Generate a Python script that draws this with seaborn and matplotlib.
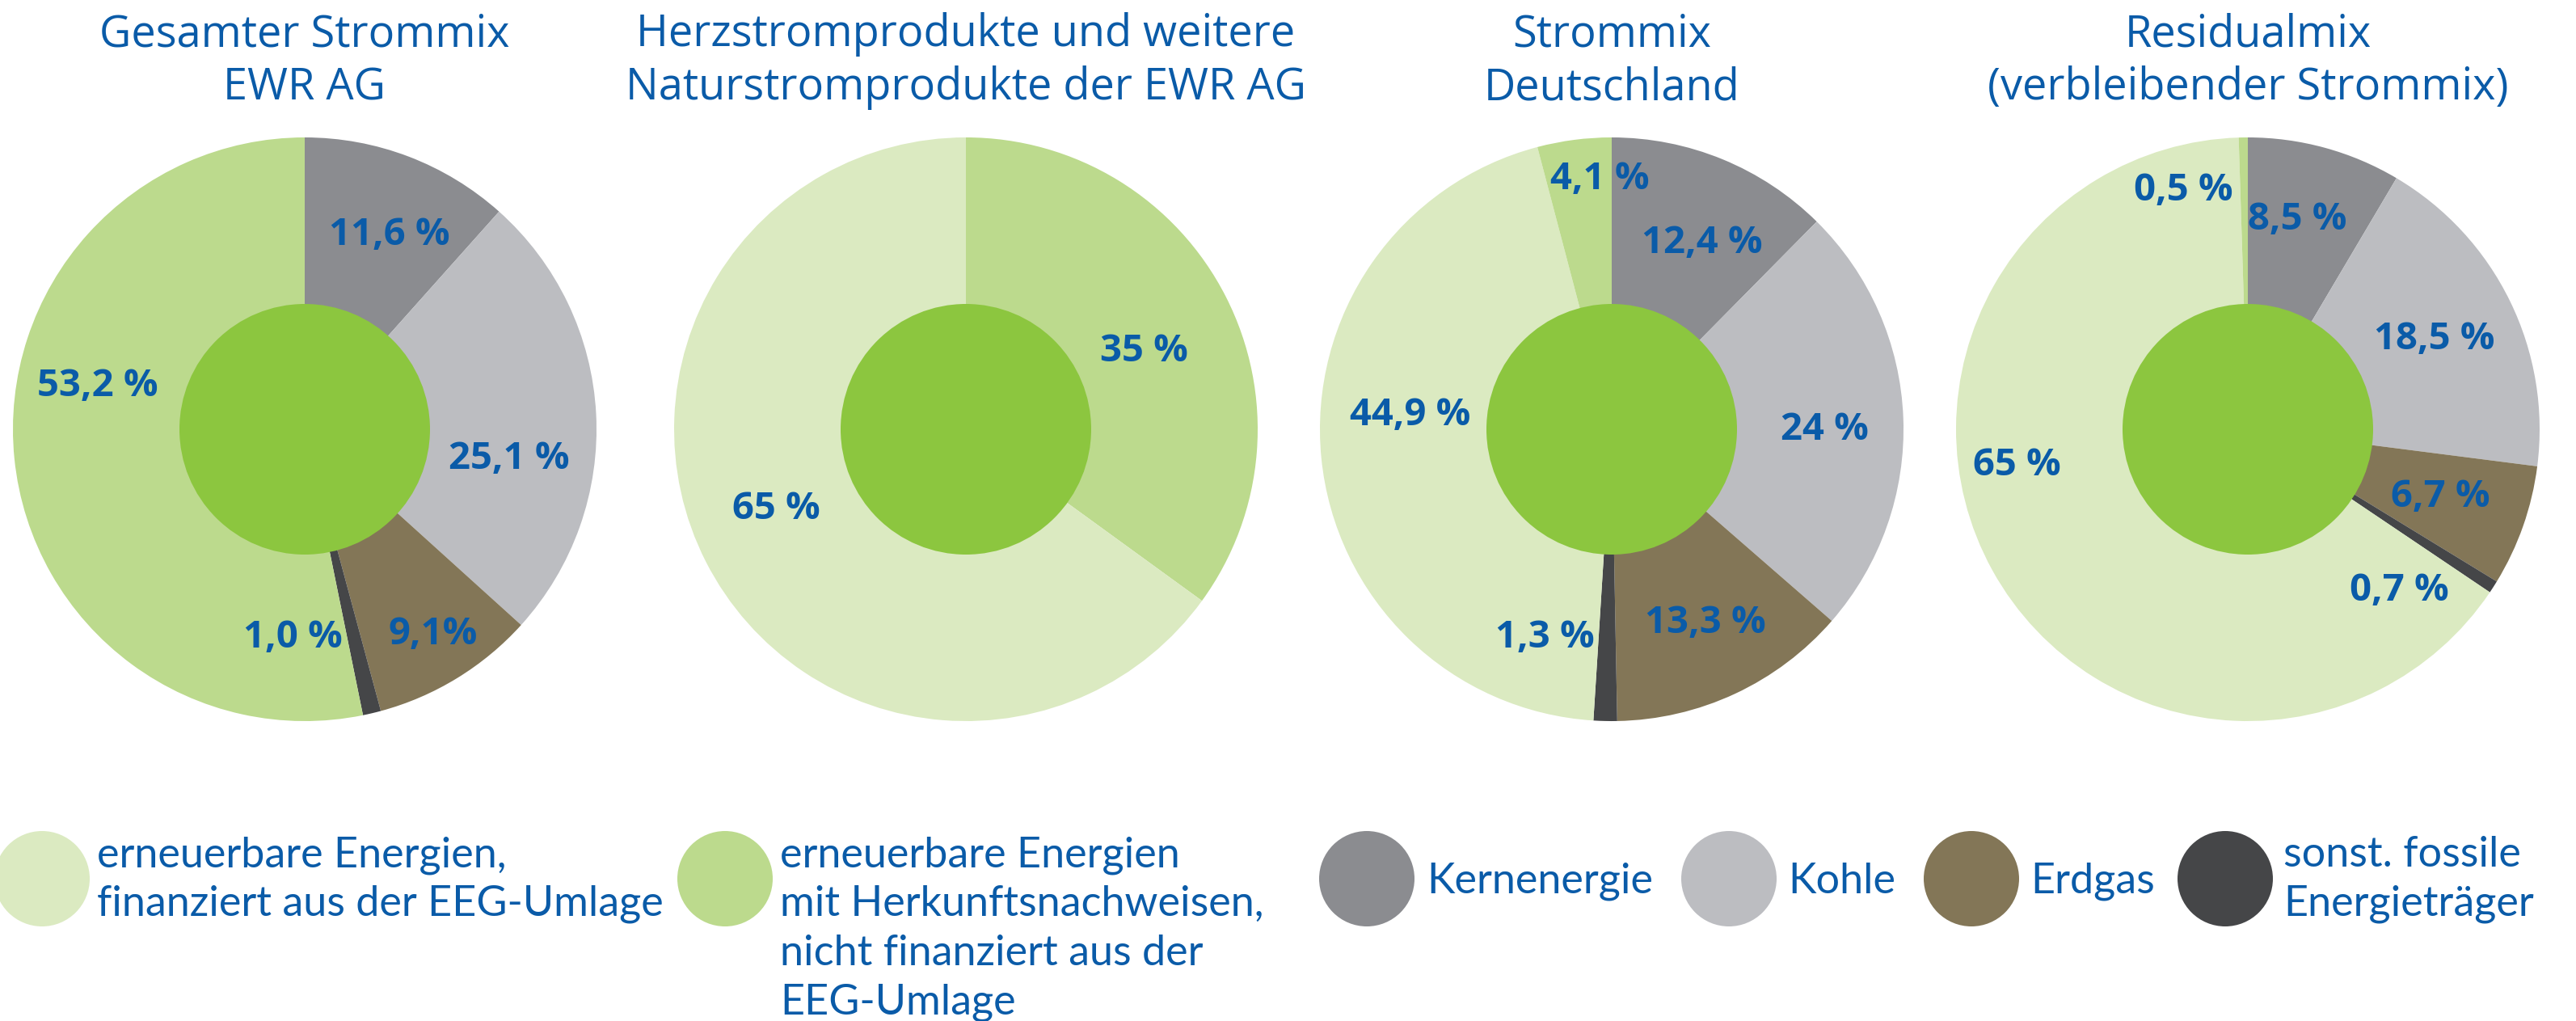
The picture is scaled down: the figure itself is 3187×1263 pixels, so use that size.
import matplotlib
matplotlib.use("Agg")
import matplotlib.pyplot as plt
import seaborn as sns
from matplotlib.patches import Circle

# ---- data -------------------------------------------------------------
categories = [
    "erneuerbare Energien, finanziert aus der EEG-Umlage",
    "erneuerbare Energien mit Herkunftsnachweisen, nicht finanziert aus der EEG-Umlage",
    "Kernenergie",
    "Kohle",
    "Erdgas",
    "sonst. fossile Energieträger",
]
legend_lines = [
    ["erneuerbare Energien,", "finanziert aus der EEG-Umlage"],
    ["erneuerbare Energien", "mit Herkunftsnachweisen,", "nicht finanziert aus der", "EEG-Umlage"],
    ["Kernenergie"],
    ["Kohle"],
    ["Erdgas"],
    ["sonst. fossile", "Energieträger"],
]
cat_colors = ["#DBEAC1", "#BCDA8D", "#8B8C90", "#BCBDC1", "#837657", "#454648"]
inner_color = "#8CC63F"
blue = "#0A5BA8"

pie_titles = [
    ["Gesamter Strommix", "EWR AG"],
    ["Herzstromprodukte und weitere", "Naturstromprodukte der EWR AG"],
    ["Strommix", "Deutschland"],
    ["Residualmix", "(verbleibender Strommix)"],
]

# shares in %, same order as categories
gesamt_ewr = [0.0, 53.2, 11.6, 25.1, 9.1, 1.0]
herzstrom = [65.0, 35.0, 0.0, 0.0, 0.0, 0.0]
strommix_de = [44.9, 4.1, 12.4, 24.0, 13.3, 1.3]
residualmix = [65.0, 0.5, 8.5, 18.5, 6.7, 0.7]

gesamt_labels = [None, "53,2 %", "11,6 %", "25,1 %", "9,1%", "1,0 %"]
herzstrom_labels = ["65 %", "35 %", None, None, None, None]
strommix_de_labels = ["44,9 %", "4,1 %", "12,4 %", "24 %", "13,3 %", "1,3 %"]
residual_labels = ["65 %", "0,5 %", "8,5 %", "18,5 %", "6,7 %", "0,7 %"]

# ---- layout (pixels, y measured from top) -----------------------------
W, H = 3187, 1263
pie_x = [377, 1195, 1994, 2781]
pie_y = 531
R = 361
R_INNER = 155

# clockwise from 12 o'clock
wedge_orders = [[2, 3, 4, 5, 0, 1], [1, 0], [2, 3, 4, 5, 0, 1], [2, 3, 4, 5, 0, 1]]

# label centre offsets in units of radius (x right, y up)
label_pos = [
    [None, (-0.71, 0.16), (0.29, 0.68), (0.70, -0.09), (0.44, -0.69), (-0.04, -0.70)],
    [(-0.65, -0.26), (0.61, 0.28), None, None, None, None],
    [(-0.69, 0.06), (-0.04, 0.87), (0.31, 0.65), (0.73, 0.01), (0.32, -0.65), (-0.23, -0.70)],
    [(-0.79, -0.11), (-0.22, 0.83), (0.17, 0.73), (0.64, 0.32), (0.66, -0.22), (0.52, -0.54)],
]

legend_cx = [52, 897, 1691, 2139, 2439, 2753]
legend_tx = [120, 965, 1765, 2212, 2512, 2825]
legend_cy = 1087
legend_r = 59

sns.set_theme(style="white")
plt.rcParams["font.family"] = ["Open Sans", "DejaVu Sans"]

fig = plt.figure(figsize=(W / 100, H / 100), dpi=100)
ax = fig.add_axes([0, 0, 1, 1])

all_values = [gesamt_ewr, herzstrom, strommix_de, residualmix]
all_labels = [gesamt_labels, herzstrom_labels, strommix_de_labels, residual_labels]

for k in range(4):
    vals = all_values[k]
    order = [i for i in wedge_orders[k] if vals[i] > 0]
    cx, cy = pie_x[k], H - pie_y
    ax.pie([vals[i] for i in order], colors=[cat_colors[i] for i in order],
           startangle=90, counterclock=False, center=(cx, cy), radius=R,
           wedgeprops=dict(linewidth=0, antialiased=True))
    ax.add_patch(Circle((cx, cy), R_INNER, color=inner_color, lw=0, zorder=3))

    for i, lab in enumerate(all_labels[k]):
        if lab is None:
            continue
        dx, dy = label_pos[k][i]
        ax.text(cx + dx * R, cy + dy * R - 17, lab, ha="center", va="baseline",
                fontsize=34, fontweight="bold", color=blue, zorder=5,
                family=["Open Sans", "DejaVu Sans"])

    for j, line in enumerate(pie_titles[k]):
        ax.text(cx, H - (57 + 66 * j), line, ha="center", va="baseline",
                fontsize=39, color=blue)

# legend
for i in range(len(categories)):
    ax.add_patch(Circle((legend_cx[i], H - legend_cy), legend_r,
                        color=cat_colors[i], lw=0))
    lines = legend_lines[i]
    first = 1105 if len(lines) == 1 else 1072
    for j, line in enumerate(lines):
        ax.text(legend_tx[i], H - (first + 61 * j), line, ha="left", va="baseline",
                fontsize=37.5, color=blue, family=["Lato", "DejaVu Sans"])

ax.set_xlim(0, W)
ax.set_ylim(0, H)
ax.set_aspect("equal")
ax.axis("off")

fig.savefig("out.png", dpi=100, facecolor="white")
